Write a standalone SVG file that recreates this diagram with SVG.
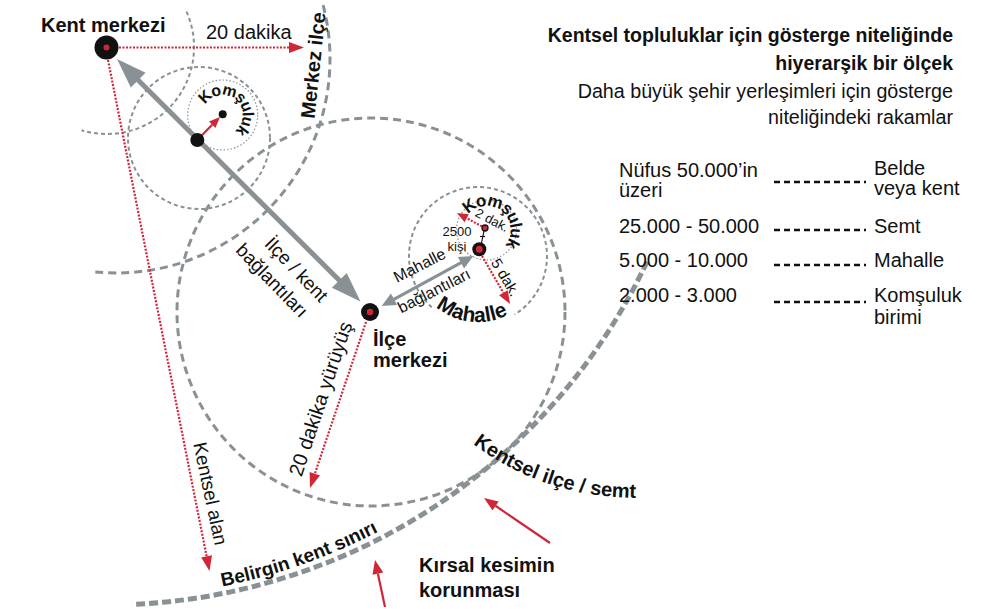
<svg xmlns="http://www.w3.org/2000/svg" width="1005" height="609" viewBox="0 0 1005 609">
<defs>
<style>
.g{fill:none;stroke:#8a9195}
.dmed{stroke-width:3;stroke-dasharray:8 5}
.dthick{stroke-width:5;stroke-dasharray:9 4}
.dthin{stroke-width:2;stroke-dasharray:4 3}
.dot{stroke-width:1.2;stroke-dasharray:1.5 2}
.rd{fill:none;stroke:#cf2638;stroke-width:2.2;stroke-dasharray:2 1.5}
.rs{fill:none;stroke:#cf2638;stroke-width:2.2}
.rh{fill:#cf2638}
.gh{fill:#8a9195}
.gs{stroke:#8a9195;fill:none}
.k{fill:#111}
.red{fill:#cf2638}
.lg{stroke:#111;stroke-width:2.5;stroke-dasharray:6 4;fill:none}
text{font-family:"Liberation Sans",Arial,sans-serif;fill:#111}
.b{font-weight:700}
.s20{font-size:20px}
.s19{font-size:19px}
.s16{font-size:16px}
.s15{font-size:15px}
.s13{font-size:13px}
.curv{letter-spacing:-1px}
</style>
<path id="p-kom-left" d="M205.4 105 A20 20 0 1 1 222.7 135"/>
<path id="p-kom-right" d="M468.1 214.6 A24 24 0 1 1 490.7 253.6"/>
<path id="p-mah" d="M420.8 289 A66 66 0 0 0 535.2 289"/>
<path id="p-bel" d="M208.6 589 A591 591 0 0 0 485.9 459.7"/>
<path id="p-ks" d="M473 444 Q545 498 640 498"/>
</defs>
<rect width="1005" height="609" fill="#fff"/>

<g id="boundaries">
<circle class="g dmed" cx="371" cy="312" r="194"/>
<path class="g dmed" d="M323.1 5.1 A214 214 0 0 1 92.9 271.7"/>
<path class="g dthin" d="M186.5 11.6 A87 87 0 0 1 81.6 130.2"/>
<circle class="g dthin" cx="199" cy="138" r="71"/>
<circle class="g dot" cx="222.7" cy="115" r="35"/>
<path class="g dthin" d="M431.8 307.3 A69 69 0 1 1 514.6 314.5"/>
<circle class="g dot" cx="486.5" cy="230" r="30"/>
<path class="g dthick" d="M647.1 261.6 A598 598 0 0 1 132.1 604.4"/>
</g>

<g id="connectors">
<line class="gs" x1="131" y1="73" x2="346" y2="287" stroke-width="5"/>
<polygon class="gh" points="117,59 130.8,87.6 145.6,72.8"/>
<polygon class="gh" points="360.5,301.5 331.9,287.7 346.7,272.9"/>
<line class="gs" x1="392" y1="300.4" x2="463" y2="261.6" stroke-width="3.2"/>
<polygon class="gh" points="381.7,306 397.1,305 390.9,293.6"/>
<polygon class="gh" points="473.3,256 464.1,268.4 457.9,257"/>
<line class="rd" x1="119" y1="47.5" x2="290" y2="47.5"/>
<polygon class="rh" points="304,47.5 289,42 289,53"/>
<line class="rd" x1="108" y1="60" x2="206.6" y2="556.3"/>
<polygon class="rh" points="209.5,571 201.2,557.4 212,555.2"/>
<line class="rd" x1="366" y1="322" x2="314.8" y2="473.8"/>
<polygon class="rh" points="310,488 309.6,472 320,475.6"/>
<line class="rs" x1="197.3" y1="140" x2="212.2" y2="124.8"/>
<polygon class="rh" points="220,117 215.4,128 209,121.6"/>
<line class="rd" x1="485" y1="228" x2="466.7" y2="218.2"/>
<polygon class="rh" points="457,213 468.8,214.2 464.6,222.2"/>
<line class="rd" x1="482" y1="256" x2="503.4" y2="292.8"/>
<polygon class="rh" points="510,304 499.1,295.3 507.7,290.3"/>
<line class="rs" x1="550" y1="543" x2="495.6" y2="505.9"/>
<polygon class="rh" points="484,498 498.7,501.4 492.5,510.4"/>
<line class="rs" x1="385" y1="607" x2="377.9" y2="573.7"/>
<polygon class="rh" points="375,560 383.3,572.6 372.5,574.8"/>
<line x1="484" y1="231" x2="481.5" y2="243" stroke="#111" stroke-width="1.2"/>
<line x1="480" y1="236.5" x2="485" y2="236.5" stroke="#111" stroke-width="1.2"/>
</g>

<g id="node-kent-merkezi">
<circle class="k" cx="106.5" cy="47.5" r="12"/>
<circle class="red" cx="106.5" cy="47.5" r="3"/>
<text class="b s20" x="41" y="32">Kent merkezi</text>
<text class="s20" x="206" y="39">20 dakika</text>
</g>

<g id="node-merkez-ilce">
<text class="b s20" text-anchor="middle" transform="translate(320,66) rotate(-84)">Merkez ilçe</text>
</g>

<g id="node-komsuluk-left">
<circle class="k" cx="197.3" cy="140" r="7"/>
<circle class="k" cx="222.7" cy="114.3" r="4"/>
<text class="b curv" font-size="16"><textPath href="#p-kom-left">Komşuluk</textPath></text>
</g>

<g id="node-ilce-merkezi">
<circle class="k" cx="370" cy="312" r="9"/>
<circle class="red" cx="370" cy="312" r="3.3"/>
<text class="b s20" x="373" y="346">İlçe</text>
<text class="b s20" x="373" y="367">merkezi</text>
<g transform="translate(291.7,274) rotate(46)">
<text class="s19" text-anchor="middle" x="0" y="0">İlçe / kent</text>
<text class="s19" text-anchor="middle" x="-9" y="25">bağlantıları</text>
</g>
<text class="s20" text-anchor="middle" transform="translate(327,401) rotate(-71.5)">20 dakika yürüyüş</text>
</g>

<g id="node-mahalle">
<circle class="k" cx="479.3" cy="249.3" r="7"/>
<circle class="red" cx="479.3" cy="249.3" r="3.5"/>
<circle cx="485" cy="228" r="3" fill="#cf2638" stroke="#111" stroke-width="1.3"/>
<text class="s13" text-anchor="middle" x="457" y="236">2500</text>
<text class="s13" text-anchor="middle" x="457" y="250.5">kişi</text>
<text class="s13" text-anchor="middle" transform="translate(490,224) rotate(28)">2 dak.</text>
<text class="s15" text-anchor="middle" transform="translate(501,280) rotate(59)">5 dak.</text>
<text class="b curv" font-size="17"><textPath href="#p-kom-right">Komşuluk</textPath></text>
<text class="b" font-size="21" text-anchor="middle"><textPath href="#p-mah" startOffset="62">Mahalle</textPath></text>
<g transform="translate(397,283) rotate(-27)">
<text class="s16" x="0" y="0">Mahalle</text>
<text class="s16" x="-10" y="29">bağlantıları</text>
</g>
</g>

<g id="node-kentsel-alan">
<text class="s19" text-anchor="middle" transform="translate(204,495) rotate(78)">Kentsel alan</text>
</g>

<g id="node-kentsel-ilce">
<text class="b s20"><textPath href="#p-ks">Kentsel ilçe / semt</textPath></text>
</g>

<g id="node-belirgin">
<text class="b s19"><textPath href="#p-bel" startOffset="14">Belirgin kent sınırı</textPath></text>
</g>

<g id="node-kirsal">
<text class="b s20" x="419" y="572">Kırsal kesimin</text>
<text class="b s20" x="419" y="597">korunması</text>
</g>

<g id="legend">
<text class="b" font-size="19.5" text-anchor="end" x="953" y="42">Kentsel topluluklar için gösterge niteliğinde</text>
<text class="b" font-size="19.5" text-anchor="end" x="953" y="70">hiyerarşik bir ölçek</text>
<text font-size="19.7" text-anchor="end" x="953" y="98">Daha büyük şehir yerleşimleri için gösterge</text>
<text font-size="19.7" text-anchor="end" x="953" y="124">niteliğindeki rakamlar</text>
<text class="s20" x="619" y="177">Nüfus 50.000’in</text>
<text class="s20" x="619" y="197">üzeri</text>
<line class="lg" x1="774" y1="182" x2="866" y2="182"/>
<text class="s20" x="874" y="175">Belde</text>
<text class="s20" x="874" y="195">veya kent</text>
<text class="s20" x="619" y="233">25.000 - 50.000</text>
<line class="lg" x1="774" y1="230" x2="866" y2="230"/>
<text class="s20" x="874" y="233">Semt</text>
<text class="s20" x="619" y="267">5.000 - 10.000</text>
<line class="lg" x1="774" y1="265" x2="866" y2="265"/>
<text class="s20" x="874" y="267">Mahalle</text>
<text class="s20" x="619" y="302">2.000 - 3.000</text>
<line class="lg" x1="774" y1="302" x2="866" y2="302"/>
<text class="s20" x="874" y="302">Komşuluk</text>
<text class="s20" x="874" y="324">birimi</text>
</g>
</svg>
